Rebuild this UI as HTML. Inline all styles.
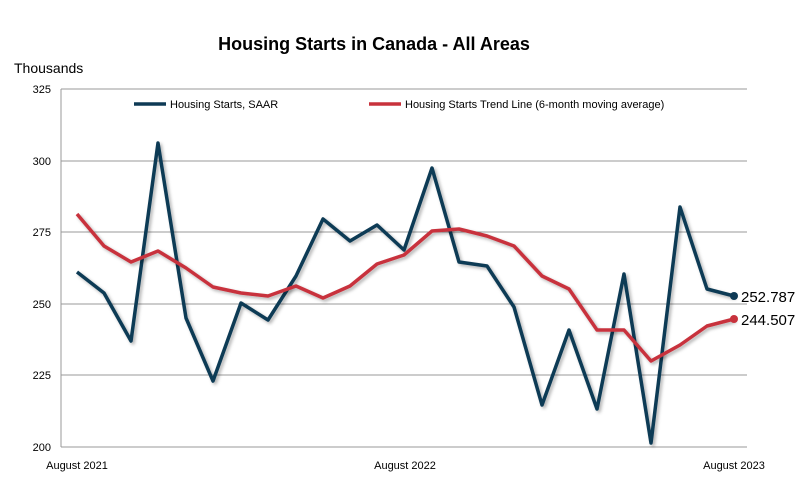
<!DOCTYPE html>
<html><head><meta charset="utf-8"><style>
body{margin:0;background:#fff;}
svg text{font-family:"Liberation Sans",sans-serif;}
</style></head><body>
<svg width="804" height="491" xmlns="http://www.w3.org/2000/svg">
<defs><filter id="sh" x="-5%" y="-5%" width="110%" height="110%"><feDropShadow dx="2" dy="2" stdDeviation="1.5" flood-color="#000" flood-opacity="0.3"/></filter></defs>
<rect width="804" height="491" fill="#fff"/>
<text x="374" y="50" font-size="18" font-weight="bold" text-anchor="middle" fill="#000">Housing Starts in Canada - All Areas</text>
<text x="14" y="73" font-size="14" fill="#000">Thousands</text>
<g stroke="#999" stroke-width="1">
<line x1="61" y1="89" x2="747" y2="89"/>
<line x1="61" y1="161" x2="747" y2="161"/>
<line x1="61" y1="232" x2="747" y2="232"/>
<line x1="61" y1="304" x2="747" y2="304"/>
<line x1="61" y1="375" x2="747" y2="375"/>
<line x1="61" y1="447" x2="747" y2="447"/>
<line x1="61" y1="89" x2="61" y2="447"/>
</g>
<g font-size="11" fill="#000" text-anchor="end">
<text x="51" y="93">325</text><text x="51" y="165">300</text><text x="51" y="236">275</text>
<text x="51" y="308">250</text><text x="51" y="379">225</text><text x="51" y="451">200</text>
</g>
<g font-size="11" fill="#000" text-anchor="middle">
<text x="77" y="469">August 2021</text><text x="405" y="469">August 2022</text><text x="734" y="469">August 2023</text>
</g>
<line x1="134" y1="104" x2="166" y2="104" stroke="#0e3a55" stroke-width="3.5"/>
<text x="170" y="108" font-size="11">Housing Starts, SAAR</text>
<line x1="369" y1="104" x2="401" y2="104" stroke="#c8323c" stroke-width="3.5"/>
<text x="405" y="108" font-size="11">Housing Starts Trend Line (6-month moving average)</text>
<polyline filter="url(#sh)" fill="none" stroke="#0e3a55" stroke-width="3.5" stroke-linejoin="round" points="77,272 104,293 131,341 158,143 186,318 213,381 241,303 268,320 296,276 323,219 350,241 377,225 404,250 432,168 459,262 487,266 514,307 542,405 569,330 597,409 624,274 651,443 680,207 707,289 734,296"/>
<polyline filter="url(#sh)" fill="none" stroke="#c8323c" stroke-width="3.5" stroke-linejoin="round" points="77,214 104,246 131,262 158,251 186,268 213,287 241,293 268,296 296,286 323,298 350,286 377,264 404,255 432,231 459,229 487,236 514,246 542,276 569,289 597,330 624,330 651,361 680,345 707,326 734,319"/>
<circle cx="734" cy="296" r="4" fill="#0e3a55"/>
<circle cx="734" cy="319" r="4" fill="#c8323c"/>
<text x="741" y="302" font-size="15">252.787</text>
<text x="741" y="325" font-size="15">244.507</text>
</svg>
</body></html>
